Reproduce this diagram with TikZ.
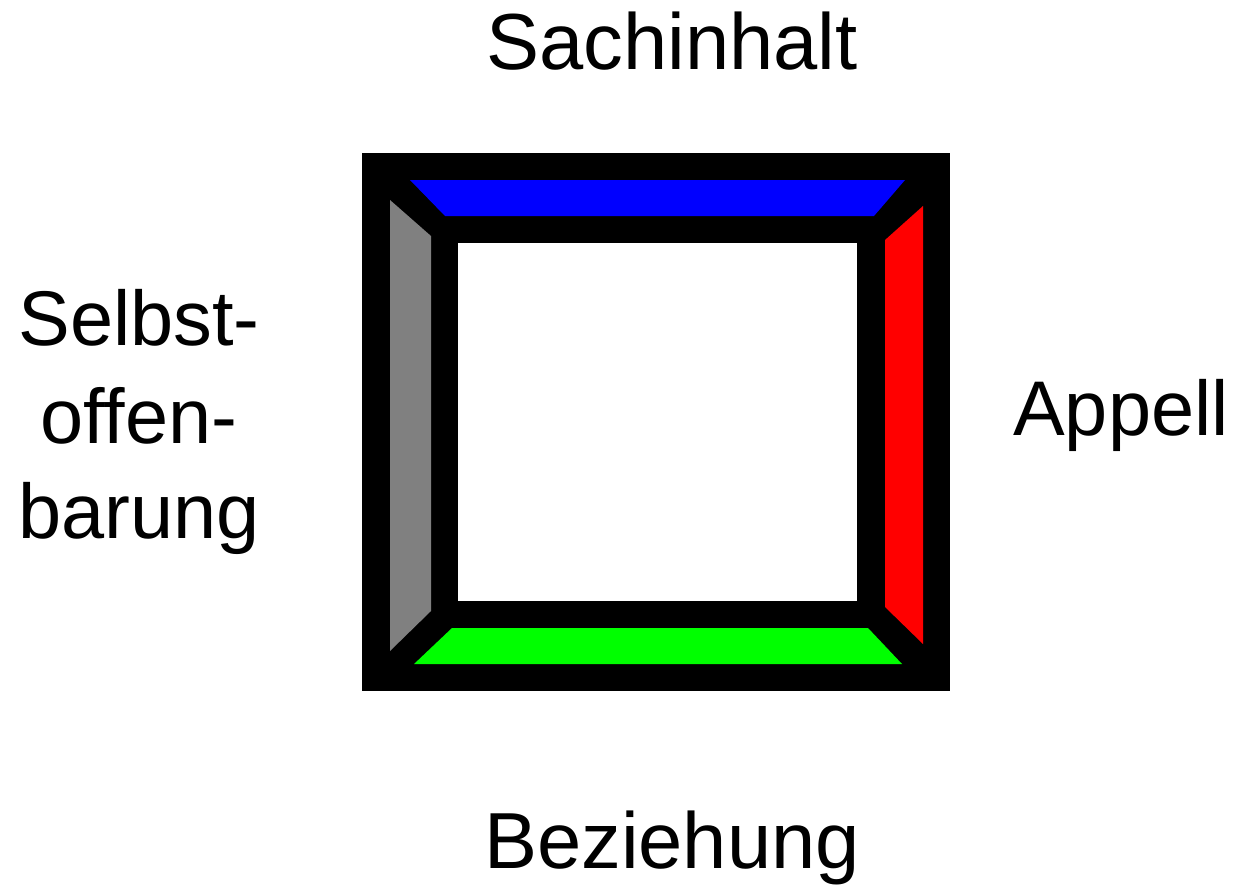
\documentclass[tikz,border=0pt]{standalone}
\usepackage{fontspec}
\setmainfont{Liberation Sans}
\definecolor{pureblue}{RGB}{0,0,255}
\definecolor{purered}{RGB}{255,0,0}
\definecolor{puregreen}{RGB}{0,255,0}
\definecolor{midgray}{RGB}{128,128,128}
\begin{document}
\begin{tikzpicture}[
  x=1pt, y=-1pt,
  every node/.style={inner sep=0pt},
  big/.style={font=\fontsize{79.5}{90}\selectfont, anchor=base},
  side/.style={font=\fontsize{77.5}{90}\selectfont, anchor=base}]

  \useasboundingbox (0,0) rectangle (1236,886);

  % ---- frame --------------------------------------------------------------
  \fill[black] (362,153) rectangle (950,691);
  \fill[pureblue]  (410,180) -- (905,180) -- (874,216) -- (445,216) -- cycle;
  \fill[midgray]   (390,200) -- (431,236) -- (431,611) -- (390,651) -- cycle;
  \fill[purered]   (923,206) -- (923,644) -- (885,607) -- (885,240) -- cycle;
  \fill[puregreen] (452,628) -- (868,628) -- (902,664) -- (414,664) -- cycle;
  \fill[white] (458,243) rectangle (857,601);

  % ---- labels -------------------------------------------------------------
  \node[big]  (content) at (672,69)  {Sachinhalt};
  \node[big]  (relation) at (672,868) {Beziehung};
  \node[side] (appeal) at (1121,435) {Appell};
  \node[side] (self1) at (139,345) {Selbst-};
  \node[side] (self2) at (139,443) {offen-};
  \node[side] (self3) at (139,538) {barung};
\end{tikzpicture}
\end{document}
